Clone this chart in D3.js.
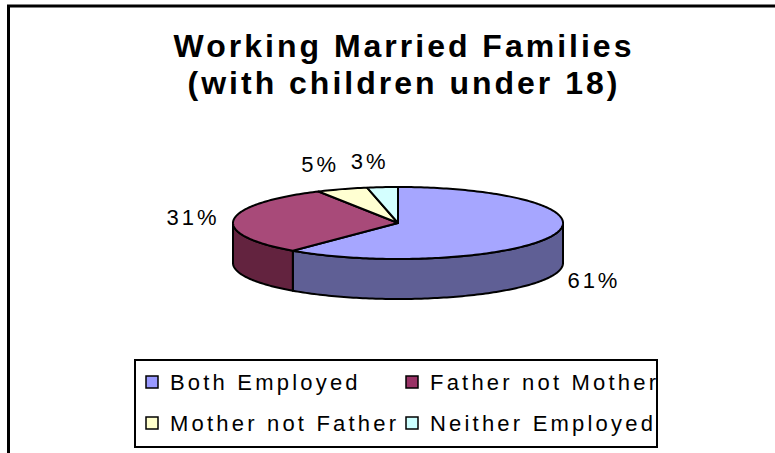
<!DOCTYPE html>
<html>
<head>
<meta charset="utf-8">
<script src="https://cdn.jsdelivr.net/npm/d3@7"></script>
<style>
  body { margin: 0; background: #fff; }
  svg { display: block; font-family: "Liberation Sans", Arial, sans-serif; }
</style>
</head>
<body>
<div id="chart"></div>
<script>
// chart data
const titleLines = ["Working Married Families", "(with children under 18)"];
const categories = ["Both Employed", "Father not Mother", "Mother not Father", "Neither Employed"];
const shares = [61, 31, 5, 3];
const legendColours = ["#9999FF", "#993366", "#FFFFCC", "#CCFFFF"];
const topColours = ["#A6A6FF", "#A84A79", "#FFFFD2", "#D4FFFF"];
const sideColours = ["#5F5F95", "#63233F", "#A0A080", "#80A0A0"];

const width = 775, height = 453;

const svg = d3.select("#chart").append("svg")
    .attr("width", width)
    .attr("height", height);

// outer chart border (right and bottom are cut off in the original)
svg.append("rect")
    .attr("x", 8.5).attr("y", 6)
    .attr("width", 900).attr("height", 600)
    .attr("fill", "none")
    .attr("stroke", "#000")
    .attr("stroke-width", 3);

// title
svg.append("text")
    .attr("x", 404).attr("y", 57)
    .attr("text-anchor", "middle")
    .style("font-size", "32px")
    .style("font-weight", "bold")
    .style("letter-spacing", "3px")
    .selectAll("tspan")
    .data(titleLines)
    .join("tspan")
    .attr("x", 404)
    .attr("dy", (d, i) => i === 0 ? 0 : 37)
    .text(d => d);

// 3d pie geometry
const pie3d = {cx: 398, cy: 223, rx: 165, ry: 36, depth: 40};
const arcs = d3.pie().sort(null).value(d => d)(shares);

const px = a => pie3d.cx + pie3d.rx * Math.sin(a);
const py = a => pie3d.cy - pie3d.ry * Math.cos(a);

function sample(a0, a1) {
    const n = Math.max(2, Math.ceil((a1 - a0) / 0.02));
    return d3.range(n + 1).map(i => a0 + (a1 - a0) * i / n);
}

const line = d3.line();

function topPath(d) {
    const pts = [[pie3d.cx, pie3d.cy]].concat(sample(d.startAngle, d.endAngle).map(a => [px(a), py(a)]));
    return line(pts) + "Z";
}

function sidePath(d) {
    const a0 = Math.max(d.startAngle, Math.PI / 2);
    const a1 = Math.min(d.endAngle, 3 * Math.PI / 2);
    if (a1 <= a0) return null;
    const angles = sample(a0, a1);
    const top = angles.map(a => [px(a), py(a)]);
    const bottom = angles.slice().reverse().map(a => [px(a), py(a) + pie3d.depth]);
    return line(top.concat(bottom)) + "Z";
}

const pieG = svg.append("g");

pieG.selectAll("path.side")
    .data(arcs.filter(d => sidePath(d)))
    .join("path")
    .attr("class", "side")
    .attr("d", sidePath)
    .attr("fill", d => sideColours[d.index])
    .attr("stroke", "#000")
    .attr("stroke-width", 2)
    .attr("stroke-linejoin", "round");

pieG.selectAll("path.top")
    .data(arcs)
    .join("path")
    .attr("class", "top")
    .attr("d", topPath)
    .attr("fill", d => topColours[d.index])
    .attr("stroke", "#000")
    .attr("stroke-width", 2)
    .attr("stroke-linejoin", "round");

// percentage labels on an outer ellipse around the pie
const labelRx = 205, labelRy = 62, labelSkew = 9;
svg.append("g")
    .selectAll("text")
    .data(arcs)
    .join("text")
    .attr("x", d => {
        const a = (d.startAngle + d.endAngle) / 2;
        return pie3d.cx + labelRx * Math.sin(a) - labelSkew * Math.cos(a);
    })
    .attr("y", d => {
        const a = (d.startAngle + d.endAngle) / 2;
        return pie3d.cy - labelRy * Math.cos(a) + (Math.cos(a) < 0 ? pie3d.depth - 4 : 0);
    })
    .attr("text-anchor", "middle")
    .attr("dominant-baseline", "central")
    .style("font-size", "22px")
    .style("letter-spacing", "3px")
    .text(d => d.data + "%");

// legend
const legend = {x: 135, y: 360, w: 522, h: 87};
svg.append("rect")
    .attr("x", legend.x).attr("y", legend.y)
    .attr("width", legend.w).attr("height", legend.h)
    .attr("fill", "#fff")
    .attr("stroke", "#000")
    .attr("stroke-width", 2);

const colX = d3.scaleOrdinal().domain([0, 1]).range([146, 406]);
const rowY = d3.scaleOrdinal().domain([0, 1]).range([382, 423]);

const items = svg.append("g")
    .selectAll("g")
    .data(categories)
    .join("g")
    .attr("transform", (d, i) => `translate(${colX(i % 2)},${rowY(Math.floor(i / 2))})`);

items.append("rect")
    .attr("x", 0).attr("y", -6)
    .attr("width", 12).attr("height", 12)
    .attr("fill", (d, i) => legendColours[i])
    .attr("stroke", "#000")
    .attr("stroke-width", 1.5);

items.append("text")
    .attr("x", 24)
    .attr("y", 0)
    .attr("dominant-baseline", "central")
    .style("font-size", "22px")
    .style("letter-spacing", "3.2px")
    .text(d => d);
</script>
</body>
</html>
